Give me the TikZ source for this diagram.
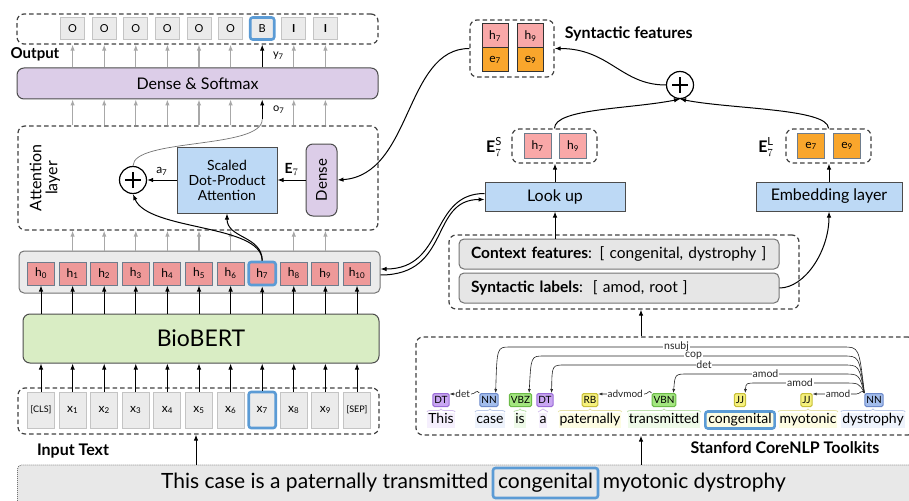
\documentclass[tikz,border=0pt]{standalone}
\usepackage{amsmath}
\usepackage{fontspec}
\setmainfont{Lato}
\usepackage{tikz}
\usetikzlibrary{positioning,arrows.meta,decorations.pathreplacing}

% colours
\definecolor{cellgray}{HTML}{EBEBEB}
\definecolor{celldraw}{HTML}{C4C4C4}
\definecolor{arrowgray}{HTML}{A8A8A8}
\definecolor{hpink}{HTML}{EE9999}
\definecolor{hdraw}{HTML}{6E7C8C}
\definecolor{lightpink}{HTML}{F9A8A8}
\definecolor{eorange}{HTML}{F9A62C}
\definecolor{lightblue}{HTML}{BDD9F5}
\definecolor{lightpurple}{HTML}{DCCDE8}
\definecolor{lightgreen}{HTML}{D9EDC4}
\definecolor{hlblue}{HTML}{5B9BD5}
\definecolor{rowgray}{HTML}{E6E6E6}
\definecolor{sentgray}{HTML}{E8E8E8}
\definecolor{dtfill}{HTML}{C9A6F2}
\definecolor{dtdraw}{HTML}{9B6DD8}
\definecolor{nnfill}{HTML}{A3BDEC}
\definecolor{nndraw}{HTML}{6D8ACB}
\definecolor{vbfill}{HTML}{A3E67F}
\definecolor{vbdraw}{HTML}{6CBB48}
\definecolor{jjfill}{HTML}{F6F17D}
\definecolor{jjdraw}{HTML}{C8BF3A}

\newcommand{\fsz}[1]{\fontsize{#1}{#1}\selectfont}

\begin{document}
\begin{tikzpicture}[x=1pt, y=-1pt, node distance=31.6pt, on grid,
  >={Latex[length=6pt,width=4.5pt]}, line width=1pt,
  dashbox/.style={draw=black!75, dash pattern=on 4.5pt off 3pt, line width=1.2pt, rounded corners=7pt, inner sep=0pt},
  layerbox/.style={draw=black!70, rounded corners=7pt, inner sep=0pt},
  flatbox/.style={draw=black!70, fill=lightblue, inner sep=0pt},
  graycell/.style={draw=celldraw, fill=cellgray, inner sep=0pt},
  incell/.style={graycell, minimum width=27pt, minimum height=36pt, font=\fsz{12}},
  outcell/.style={graycell, minimum width=24pt, minimum height=22pt, font=\fsz{11}},
  hcell/.style={draw=hdraw, fill=hpink, minimum width=27pt, minimum height=23pt, inner sep=0pt, font=\fsz{12}},
  fcell/.style={draw=black!80, minimum width=26pt, minimum height=24pt, inner sep=0pt, font=\fsz{12}},
  ecell/.style={draw=hdraw, minimum width=27pt, minimum height=25pt, inner sep=0pt, font=\fsz{12}},
  hl/.style={draw=hlblue, line width=2.6pt, rounded corners=2.5pt},
  oplus/.style={circle, draw, line width=1.2pt, fill=white, minimum size=27pt, inner sep=0pt,
    path picture={\draw [line width=1.6pt]
      ([xshift=-8pt]path picture bounding box.center) -- ([xshift=8pt]path picture bounding box.center)
      ([yshift=-8pt]path picture bounding box.center) -- ([yshift=8pt]path picture bounding box.center);}},
  grayarr/.style={->, arrowgray, line width=1.1pt},
  boldlabel/.style={font=\bfseries\fsz{16}},
  rowbox/.style={draw=black!55, fill=rowgray, rounded corners=5pt, text width=296pt, align=left,
    inner xsep=12pt, inner ysep=0pt, minimum height=30pt, font=\fsz{15.5}},
  tagbox/.style={draw, rounded corners=1.5pt, inner xsep=1.5pt, inner ysep=0pt, minimum height=13pt,
    text height=7.5pt, text depth=1.5pt, font=\fsz{10}},
  dttag/.style={tagbox, fill=dtfill, draw=dtdraw},
  nntag/.style={tagbox, fill=nnfill, draw=nndraw},
  vbtag/.style={tagbox, fill=vbfill, draw=vbdraw},
  jjtag/.style={tagbox, fill=jjfill, draw=jjdraw},
  wordnode/.style={inner xsep=1pt, inner ysep=1pt, text height=10pt, text depth=3pt, font=\fsz{14}},
  tagbrace/.style={decorate, decoration={brace, amplitude=3pt}, line width=0.8pt},
  deparc/.style={-{Latex[length=4pt,width=3pt]}, line width=0.6pt, black!85},
  deplabel/.style={fill=white, inner sep=0.8pt, font=\fsz{10.5}},
  senttext/.style={inner xsep=2pt, inner ysep=2pt, text height=15pt, text depth=5pt, font=\fsz{21}}]
\useasboundingbox (0,0) rectangle (909,500);

% output labels
\node [dashbox, minimum width=361pt, minimum height=30pt] (outbox) at (197.5,29) {};
\node [outcell] (y_1) at (72.6,28.5) {O};
\node [outcell] (y_2) [right = of y_1] {O};
\node [outcell] (y_3) [right = of y_2] {O};
\node [outcell] (y_4) [right = of y_3] {O};
\node [outcell] (y_5) [right = of y_4] {O};
\node [outcell] (y_6) [right = of y_5] {O};
\node [outcell, hl] (y_7) [right = of y_6] {B};
\node [outcell] (y_8) [right = of y_7] {\textbf{I}};
\node [outcell] (y_9) [right = of y_8] {\textbf{I}};
\node [boldlabel, font=\bfseries\fsz{15}] (outlabel) at (35,54) {Output};

\node [layerbox, fill=lightpurple, minimum width=361pt, minimum height=31pt, font=\fsz{16}] (ds) at (197.5,83.5) {Dense \& Softmax};

% attention layer
\node [dashbox, minimum width=360pt, minimum height=104pt] (att) at (198,178) {};
\node [rotate=90, align=center, font=\fsz{16}, inner sep=0pt] (attlabel) at (45,178) {Attention\\layer};
\node [oplus] (plus) at (133,180) {};
\node [flatbox, minimum width=100pt, minimum height=66pt, align=center, font=\fontsize{14}{15}\selectfont] (sdpa) at (227,180) {Scaled\\Dot-Product\\Attention};
\node [layerbox, fill=lightpurple, rotate=90, minimum width=72pt, minimum height=31pt, font=\fsz{15}] (dense) at (321.5,180) {Dense};

% hidden states
\node [layerbox, fill=cellgray, draw=black!55, rounded corners=5pt, minimum width=361pt, minimum height=42pt] (hbox) at (199.5,272) {};
\node [hcell] (h_0) at (41,273.5) {h\textsubscript{0}};
\node [hcell] (h_1) [right = of h_0] {h\textsubscript{1}};
\node [hcell] (h_2) [right = of h_1] {h\textsubscript{2}};
\node [hcell] (h_3) [right = of h_2] {h\textsubscript{3}};
\node [hcell] (h_4) [right = of h_3] {h\textsubscript{4}};
\node [hcell] (h_5) [right = of h_4] {h\textsubscript{5}};
\node [hcell] (h_6) [right = of h_5] {h\textsubscript{6}};
\node [hcell, hl] (h_7) [right = of h_6] {h\textsubscript{7}};
\node [hcell] (h_8) [right = of h_7] {h\textsubscript{8}};
\node [hcell] (h_9) [right = of h_8] {h\textsubscript{9}};
\node [hcell] (h_10) [right = of h_9] {h\textsubscript{10}};

\node [layerbox, fill=lightgreen, minimum width=356pt, minimum height=49pt, font=\fsz{23}] (bert) at (201,338.5) {BioBERT};

% input tokens
\node [dashbox, minimum width=361pt, minimum height=46pt] (inbox) at (198.5,411) {};
\node [incell, font=\fsz{9}] (x_0) at (41,410) {[CLS]};
\node [incell] (x_1) [right = of x_0] {x\textsubscript{1}};
\node [incell] (x_2) [right = of x_1] {x\textsubscript{2}};
\node [incell] (x_3) [right = of x_2] {x\textsubscript{3}};
\node [incell] (x_4) [right = of x_3] {x\textsubscript{4}};
\node [incell] (x_5) [right = of x_4] {x\textsubscript{5}};
\node [incell] (x_6) [right = of x_5] {x\textsubscript{6}};
\node [incell, hl] (x_7) [right = of x_6] {x\textsubscript{7}};
\node [incell] (x_8) [right = of x_7] {x\textsubscript{8}};
\node [incell] (x_9) [right = of x_8] {x\textsubscript{9}};
\node [incell, font=\fsz{9}] (x_10) [right = of x_9] {[SEP]};
\node [boldlabel] (inlabel) at (73,451) {Input Text};

% sentence
\node [draw=black!55, dash pattern=on 1pt off 1pt, line width=0.8pt, fill=sentgray, rounded corners=4pt, minimum width=897pt, minimum height=40pt] (sentence) at (466,485) {};
\node [senttext, hl, inner xsep=5pt, inner ysep=5pt] (s_cong) at (545.5,483) {congenital};
\node [senttext, anchor=east] (s_left) at ([xshift=-1pt]s_cong.west) {This case is a paternally transmitted};
\node [senttext, anchor=west] (s_right) at ([xshift=1pt]s_cong.east) {myotonic dystrophy};

% syntactic features
\node [dashbox, minimum width=84pt, minimum height=57pt] (synf) at (512,48.5) {};
\node [fcell, fill=lightpink] (sh_7) at (495,36) {h\textsubscript{7}};
\node [fcell, fill=eorange] (se_7) [below = 24pt of sh_7] {e\textsubscript{7}};
\node [fcell, fill=lightpink] (sh_9) [right = 35.5pt of sh_7] {h\textsubscript{9}};
\node [fcell, fill=eorange] (se_9) [below = 24pt of sh_9] {e\textsubscript{9}};
\node [boldlabel, anchor=west] (synlabel) at (561,34) {Syntactic features};
\node [oplus] (plus2) at (680,85) {};

\node [dashbox, minimum width=85pt, minimum height=34pt] (es) at (554.5,146) {};
\node [ecell, fill=lightpink] (esh_7) at (537.5,146) {h\textsubscript{7}};
\node [ecell, fill=lightpink] (esh_9) [right = 35.5pt of esh_7] {h\textsubscript{9}};
\node [font=\fsz{16}, inner sep=0pt] (eslabel) at (494,147) {$\mathbf{E}^{\mathrm{S}}_7$};
\node [dashbox, minimum width=85pt, minimum height=34pt] (el) at (828.5,146) {};
\node [ecell, fill=eorange] (el_7) at (811,146) {e\textsubscript{7}};
\node [ecell, fill=eorange] (el_9) [right = 36pt of el_7] {e\textsubscript{9}};
\node [font=\fsz{16}, inner sep=0pt] (ellabel) at (766,147) {$\mathbf{E}^{\mathrm{L}}_7$};

\node [flatbox, minimum width=140pt, minimum height=29pt, font=\fsz{16}] (lookup) at (555,196.5) {Look up};
\node [flatbox, minimum width=146pt, minimum height=29pt, font=\fsz{16}] (embed) at (829,196.5) {Embedding layer};

\node [dashbox, minimum width=350pt, minimum height=74pt] (ctx) at (624,272) {};
\node [rowbox] (cf) at (619,254) {\textbf{Context features}: [ congenital, dystrophy ]};
\node [rowbox] (sl) at (619,288) {\textbf{Syntactic labels}:\hspace{10pt}[ amod, root ]};

% dependency parse
\node [dashbox, minimum width=499pt, minimum height=98pt] (nlp) at (665.5,386) {};
\node [boldlabel] (nlplabel) at (785,448) {Stanford CoreNLP Toolkits};
\node [wordnode, fill=dtfill!18] (w_1) at (441,420) {This};
\node [wordnode, fill=nnfill!18] (w_2) at (490,420) {case};
\node [wordnode, fill=vbfill!18] (w_3) at (520,420) {is};
\node [wordnode, fill=dtfill!18] (w_4) at (543,420) {a};
\node [wordnode, fill=jjfill!22] (w_5) at (590,420) {paternally};
\node [wordnode, fill=vbfill!18] (w_6) at (664,420) {transmitted};
\node [wordnode, fill=jjfill!22, hl, inner xsep=3pt, inner ysep=2pt] (w_7) at (740,420) {congenital};
\node [wordnode, fill=jjfill!22] (w_8) at (808,420) {myotonic};
\node [wordnode, fill=nnfill!18] (w_9) at (873,420) {dystrophy};
\node [dttag] (t_1) at (441,400) {DT};
\node [nntag] (t_2) at (489,400) {NN};
\node [vbtag] (t_3) at (520.5,400) {VBZ};
\node [dttag] (t_4) at (545,400) {DT};
\node [jjtag] (t_5) at (590,400) {RB};
\node [vbtag] (t_6) at (664,400) {VBN};
\node [jjtag] (t_7) at (740,400) {JJ};
\node [jjtag] (t_8) at (806.5,400) {JJ};
\node [nntag] (t_9) at (874,400) {NN};
\draw [tagbrace, dtdraw!45] (w_1.north west) -- (w_1.north east);
\draw [tagbrace, nndraw!45] (w_2.north west) -- (w_2.north east);
\draw [tagbrace, vbdraw!45] (w_3.north west) -- (w_3.north east);
\draw [tagbrace, dtdraw!45] (w_4.north west) -- (w_4.north east);
\draw [tagbrace, jjdraw!45] (w_5.north west) -- (w_5.north east);
\draw [tagbrace, vbdraw!45] (w_6.north west) -- (w_6.north east);
\draw [tagbrace, jjdraw!45] (w_8.north west) -- (w_8.north east);
\draw [tagbrace, nndraw!45] (w_9.north west) -- (w_9.north east);

\draw [deparc] (t_9.north west) .. controls (859,347) .. (843,347) -- node [deplabel] {nsubj} (510,347) .. controls (497,347) .. ([xshift=-3pt]t_2.north east);
\draw [deparc] (t_9.north west) .. controls (859,356) .. (843,356) -- node [deplabel] {cop} (544,356) .. controls (531,356) .. ([xshift=-3pt]t_3.north east);
\draw [deparc] (t_9.north west) .. controls (859,365) .. (843,365) -- node [deplabel] {det} (565,365) .. controls (552,365) .. ([xshift=-2pt]t_4.north east);
\draw [deparc] (t_9.north west) .. controls (859,374) .. (843,374) -- node [deplabel] {amod} (688,374) .. controls (675,374) .. ([xshift=-3pt]t_6.north east);
\draw [deparc] (t_9.north west) .. controls (859,383) .. (843,383) -- node [deplabel] {amod} (757,383) .. controls (746,383) .. ([xshift=-1pt]t_7.north east);
\draw [deparc] (t_2.north west) .. controls +(-3,-4) and +(4,0) .. ++(-8,1) -- node [deplabel, pos=0.4, font=\fsz{10}] {det} ([yshift=-1pt]t_1.north east);
\draw [deparc] (t_6.north west) .. controls +(-3,-4) and +(4,0) .. ++(-7,1) -- node [deplabel, pos=0.42, font=\fsz{10}] {advmod} ([yshift=-1pt]t_5.north east);
\draw [deparc] (t_9.north west) .. controls +(-3,-4) and +(4,0) .. ++(-8,1) -- node [deplabel, pos=0.42, font=\fsz{10}] {amod} ([yshift=-1pt]t_8.north east);

% left column arrows
\path [->] (x_0) edge (x_0 |- bert.south) (x_1) edge (x_1 |- bert.south) (x_2) edge (x_2 |- bert.south)
  (x_3) edge (x_3 |- bert.south) (x_4) edge (x_4 |- bert.south) (x_5) edge (x_5 |- bert.south)
  (x_6) edge (x_6 |- bert.south) (x_7) edge (x_7 |- bert.south) (x_8) edge (x_8 |- bert.south)
  (x_9) edge (x_9 |- bert.south) (x_10) edge (x_10 |- bert.south);
\path [->] (h_0 |- bert.north) edge (h_0) (h_1 |- bert.north) edge (h_1) (h_2 |- bert.north) edge (h_2)
  (h_3 |- bert.north) edge (h_3) (h_4 |- bert.north) edge (h_4) (h_5 |- bert.north) edge (h_5)
  (h_6 |- bert.north) edge (h_6) (h_7 |- bert.north) edge (h_7) (h_8 |- bert.north) edge (h_8)
  (h_9 |- bert.north) edge (h_9) (h_10 |- bert.north) edge (h_10);
\path [grayarr] (h_1 |- hbox.north) edge (h_1 |- att.south) (h_2 |- hbox.north) edge (h_2 |- att.south)
  (h_3 |- hbox.north) edge (h_3 |- att.south) (h_4 |- hbox.north) edge (h_4 |- att.south)
  (h_5 |- hbox.north) edge (h_5 |- att.south) (h_6 |- hbox.north) edge (h_6 |- att.south)
  (h_8 |- hbox.north) edge (h_8 |- att.south) (h_9 |- hbox.north) edge (h_9 |- att.south);
\path [grayarr] (h_1 |- att.north) edge (h_1 |- ds.south) (h_2 |- att.north) edge (h_2 |- ds.south)
  (h_3 |- att.north) edge (h_3 |- ds.south) (h_4 |- att.north) edge (h_4 |- ds.south)
  (h_5 |- att.north) edge (h_5 |- ds.south) (h_6 |- att.north) edge (h_6 |- ds.south)
  (h_8 |- att.north) edge (h_8 |- ds.south) (h_9 |- att.north) edge (h_9 |- ds.south);
\path [grayarr] (y_1 |- ds.north) edge (y_1 |- outbox.south) (y_2 |- ds.north) edge (y_2 |- outbox.south)
  (y_3 |- ds.north) edge (y_3 |- outbox.south) (y_4 |- ds.north) edge (y_4 |- outbox.south)
  (y_5 |- ds.north) edge (y_5 |- outbox.south) (y_6 |- ds.north) edge (y_6 |- outbox.south)
  (y_8 |- ds.north) edge (y_8 |- outbox.south) (y_9 |- ds.north) edge (y_9 |- outbox.south);
\draw [->] (y_7 |- ds.north) -- node [right=7pt, font=\fsz{11}] {y\textsubscript{7}} (y_7 |- outbox.south);

\coordinate (o_7) at (h_7 |- att.north);
\draw [black!55, line width=0.7pt] (plus.north) .. controls +(0,-28) and +(0,30) .. ([yshift=6pt]o_7);
\draw [->] ([yshift=6pt]o_7) -- node [right=7pt, font=\fsz{11}] {o\textsubscript{7}} (o_7 |- ds.south);
\draw [->] (h_7.north) .. controls +(0,-25) and +(0,25) .. (sdpa.south);
\draw [->] (h_7.north) .. controls +(0,-37) and +(15,37) .. (plus.south);
\path [->] (dense) edge node [above=1pt, font=\fsz{14}] {$\mathbf{E}_7$} (sdpa)
  (sdpa) edge node [above=1pt, font=\fsz{12}] {a\textsubscript{7}} (plus);

% right column arrows
\draw [->] (synf.west) .. controls +(-65,0) and +(75,-5) .. (dense.south);
\draw [->] (plus2.west) .. controls +(-45,0) and +(55,0) .. (synf.east);
\draw [->] (es.north) .. controls +(0,-20) and +(-50,10) .. (plus2.south);
\draw [->] (el.north) .. controls +(0,-20) and +(50,10) .. (plus2.south);
\draw [->] (lookup.north) -- (lookup.north |- es.south);
\draw [->] (embed.north) -- (embed.north |- el.south);
\draw [->] (lookup.south |- cf.north) -- (lookup.south);
\draw [->] (sl.east) .. controls +(25,0) and +(0,40) .. (embed.south);
\draw [->] ([yshift=3pt]lookup.west) .. controls +(-55,0) and +(65,0) .. ([yshift=3pt]hbox.east);
\draw [->] ([yshift=-3pt]hbox.east) .. controls +(71,0) and +(-55,0) .. ([yshift=-3pt]lookup.west);
\draw [->] ([xshift=-24.5pt]nlp.north) -- ([xshift=-24.5pt]nlp.north |- ctx.south);
\draw [->] ([xshift=175pt]sentence.north) -- ([xshift=175pt]sentence.north |- nlp.south);
\draw [->] ([xshift=-270pt]sentence.north) -- ([xshift=-270pt]sentence.north |- inbox.south);
\end{tikzpicture}
\end{document}
